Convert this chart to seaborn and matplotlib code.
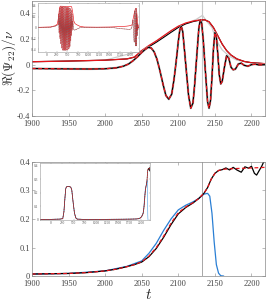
import numpy as np
import pandas as pd
import matplotlib
matplotlib.use("Agg")
import matplotlib.pyplot as plt
import seaborn as sns

# ---- top panel: real part of the (2,2) waveform, late times ----
t_re = [1900, 1950, 1980, 2000, 2015, 2025, 2032, 2038, 2044, 2050, 2055, 2059, 2063, 2067,
        2071, 2075, 2079, 2083, 2087, 2091, 2094, 2097, 2100, 2102, 2104, 2106, 2108, 2111,
        2114, 2117, 2120, 2122, 2125, 2128, 2130, 2132, 2134, 2137, 2140, 2142, 2144, 2146,
        2148, 2150, 2152, 2154, 2156, 2158, 2160, 2163, 2166, 2169, 2172, 2175, 2178, 2182,
        2186, 2190, 2195, 2200, 2205, 2210, 2218]
re_nr = [-0.030, -0.033, -0.034, -0.032, -0.025, -0.012, 0.005, 0.030, 0.060, 0.095, 0.120,
         0.135, 0.130, 0.100, 0.040, -0.050, -0.150, -0.240, -0.270, -0.230, -0.120, 0.020,
         0.180, 0.270, 0.300, 0.260, 0.140, -0.050, -0.240, -0.340, -0.300, -0.180, 0.050,
         0.280, 0.350, 0.320, 0.200, -0.050, -0.290, -0.340, -0.280, -0.100, 0.120, 0.250,
         0.220, 0.080, -0.080, -0.150, -0.130, -0.020, 0.070, 0.050, -0.020, -0.040, -0.035,
         0.005, 0.012, -0.005, -0.012, 0.000, 0.004, -0.002, 0.000]

t_amp = [1900, 1950, 2000, 2030, 2040, 2050, 2060, 2070, 2080, 2090, 2100, 2110, 2120, 2130,
         2136, 2142, 2148, 2154, 2160, 2166, 2172, 2180, 2190, 2200, 2218]
amp_red = [0.023, 0.028, 0.035, 0.045, 0.060, 0.110, 0.150, 0.185, 0.225, 0.265, 0.300, 0.325,
           0.340, 0.350, 0.350, 0.335, 0.290, 0.225, 0.160, 0.110, 0.075, 0.045, 0.025, 0.015,
           0.008]
amp_blk = [0.023, 0.028, 0.035, 0.045, 0.058, 0.105, 0.140, 0.175, 0.213, 0.252, 0.290, 0.318,
           0.336, 0.348, 0.350, 0.335, 0.290, 0.225, 0.160, 0.110, 0.075, 0.045, 0.025, 0.015,
           0.008]
t_grey = [1900, 2000, 2050, 2100, 2115, 2125, 2133, 2140, 2146, 2150, 2155, 2160, 2170, 2180,
          2200, 2218]
amp_grey = [0.023, 0.035, 0.110, 0.300, 0.330, 0.355, 0.385, 0.330, 0.290, 0.220, 0.160, 0.115,
            0.065, 0.035, 0.015, 0.008]

# ---- top inset: early part of the waveform ----
t_re_early = [-200, 0, 100, 200, 250, 280, 290, 300, 310, 320, 330, 340, 350, 360, 370, 380,
              390, 400, 410, 420, 430, 440, 450, 460, 470, 480, 490, 500, 510, 520, 530, 540,
              550, 560, 570, 580, 590, 600, 610, 620, 630, 640, 660, 700, 750, 800, 1000, 1400,
              1600, 1700, 1800]
re_early = [0.0, 0.0, 0.005, 0.02, 0.04, 0.05, 0.25, -0.10, 0.35, -0.20, 0.38, -0.30, 0.38,
            -0.38, 0.38, -0.42, 0.38, -0.42, 0.38, -0.42, 0.38, -0.42, 0.38, -0.42, 0.37, -0.42,
            0.37, -0.42, 0.37, -0.40, 0.37, -0.38, 0.36, -0.35, 0.35, -0.25, 0.32, -0.15, 0.25,
            -0.05, 0.12, -0.02, -0.05, -0.04, -0.02, -0.005, 0.0, 0.0, -0.005, -0.015, -0.025]
t_amp_early = [-200, 100, 200, 260, 290, 310, 330, 600, 630, 650, 680, 720, 800, 900, 1200,
               1500, 1700, 1800]
amp_early = [0.002, 0.01, 0.03, 0.06, 0.20, 0.36, 0.39, 0.38, 0.25, 0.12, 0.07, 0.05, 0.02,
             0.008, 0.005, 0.008, 0.014, 0.018]

# ---- bottom panel: frequency ----
t_om = [1900, 1925, 1950, 1975, 2000, 2015, 2030, 2040, 2050, 2060, 2070, 2080, 2090, 2100,
        2110, 2120, 2128, 2135, 2140, 2145, 2150, 2155, 2160, 2170, 2180, 2190, 2200, 2210, 2218]
om_red = [0.007, 0.008, 0.009, 0.012, 0.018, 0.024, 0.033, 0.040, 0.050, 0.070, 0.100, 0.140,
          0.185, 0.222, 0.242, 0.257, 0.272, 0.290, 0.310, 0.340, 0.360, 0.370, 0.374, 0.376,
          0.377, 0.378, 0.379, 0.380, 0.381]
t_om_blk = [1900, 1925, 1950, 1975, 2000, 2015, 2030, 2040, 2050, 2060, 2070, 2080, 2090, 2100,
            2110, 2120, 2128, 2135, 2140, 2145, 2150, 2155, 2160, 2165, 2170, 2175, 2180, 2186,
            2191, 2196, 2200, 2204, 2207, 2211, 2214, 2218]
om_blk = [0.007, 0.008, 0.009, 0.012, 0.018, 0.024, 0.033, 0.040, 0.049, 0.068, 0.097, 0.136,
          0.180, 0.218, 0.240, 0.256, 0.272, 0.290, 0.310, 0.340, 0.360, 0.370, 0.373, 0.379,
          0.372, 0.381, 0.372, 0.364, 0.383, 0.378, 0.385, 0.360, 0.354, 0.372, 0.385, 0.408]
t_om_blue = [1900, 1950, 2000, 2030, 2050, 2060, 2070, 2080, 2090, 2100, 2110, 2120, 2128, 2135,
             2140, 2143, 2146, 2149, 2152, 2155, 2158, 2162]
om_blue = [0.007, 0.009, 0.018, 0.034, 0.053, 0.080, 0.115, 0.160, 0.200, 0.232, 0.248, 0.260,
           0.272, 0.287, 0.290, 0.280, 0.220, 0.120, 0.040, 0.010, 0.001, 0.0]

# ---- bottom inset: early frequency ----
t_om_early = [-250, 0, 200, 260, 285, 305, 325, 345, 400, 440, 460, 490, 520, 550, 580, 700,
              1200, 1600, 1800]
om_early = [0.003, 0.004, 0.006, 0.010, 0.060, 0.150, 0.230, 0.245, 0.247, 0.240, 0.220, 0.130,
            0.050, 0.015, 0.006, 0.004, 0.004, 0.005, 0.006]

t_merger = 2133
main_xticks = [1900, 1950, 2000, 2050, 2100, 2150, 2200]
top_yticks = [-0.4, -0.2, 0, 0.2, 0.4]
top_yticklabels = ["-0.4", "-0.2", "0", "0.2", "0.4"]
bot_yticks = [0, 0.1, 0.2, 0.3, 0.4]
bot_yticklabels = ["0", "0.1", "0.2", "0.3", "0.4"]
inset_xticks = [0, 250, 500, 750, 1000, 1250, 1500, 1750, 2000]

sns.set_style("ticks")
plt.rcParams["font.family"] = ["Liberation Serif", "DejaVu Serif"]
plt.rcParams["mathtext.fontset"] = "cm"

fig = plt.figure(figsize=(2.66, 3.05), dpi=100)
ax1 = fig.add_axes([0.120, 0.620, 0.875, 0.378])
ax2 = fig.add_axes([0.120, 0.095, 0.875, 0.374])
in1 = fig.add_axes([0.143, 0.8295, 0.380, 0.161])
in2 = fig.add_axes([0.150, 0.279, 0.4135, 0.187])

def line(ax, x, y, **kw):
    sns.lineplot(x=x, y=y, ax=ax, estimator=None, sort=False, legend=False, **kw)

# top main
ax1.axvline(t_merger, color="#c8c8c8", lw=0.8, zorder=0)
line(ax1, t_grey, amp_grey, color="#cccccc", lw=0.9)
line(ax1, t_amp, amp_blk, color="black", lw=0.8)
line(ax1, t_amp, amp_red, color="#e8151b", lw=0.9)
line(ax1, t_re, re_nr, color="#bbbbbb", lw=1.6)
line(ax1, t_re, re_nr, color="black", lw=0.9)
line(ax1, t_re, re_nr, color="#e8151b", lw=0.9, dashes=(3, 2))
ax1.set_xlim(1900, 2218)
ax1.set_ylim(-0.4, 0.5)
ax1.set_yticks(top_yticks)
ax1.set_yticklabels(top_yticklabels)
ax1.set_ylabel(r"$\Re(\Psi_{22})/\nu$", fontsize=9.5)
ax1.yaxis.set_label_coords(-0.058, 0.5)
ax1.set_xlabel("")

# bottom main
ax2.axvline(t_merger, color="#999999", lw=0.6, zorder=0)
line(ax2, t_om_blue, om_blue, color="#2a7fd4", lw=0.9)
line(ax2, t_om_blk, om_blk, color="black", lw=0.9)
line(ax2, t_om, om_red, color="#e8151b", lw=0.9, dashes=(3, 2))
ax2.set_xlim(1900, 2218)
ax2.set_ylim(0, 0.4)
ax2.set_yticks(bot_yticks)
ax2.set_yticklabels(bot_yticklabels)
ax2.set_xlabel(r"$t$", fontsize=11, labelpad=0)
ax2.set_ylabel("")

for ax in (ax1, ax2):
    ax.set_xticks(main_xticks)
    ax.tick_params(direction="in", top=True, right=True, length=2, width=0.4,
                   labelsize=6, labelcolor="#444444", color="#888888", pad=1.5)
    ax.tick_params(axis="x", pad=3)
    for s in ax.spines.values():
        s.set_color("#888888")
        s.set_linewidth(0.5)

# top inset
line(in1, t_amp_early + t_amp, amp_early + amp_red, color="#e8151b", lw=0.45)
line(in1, t_re_early + t_re, re_early + re_nr, color="#666666", lw=0.3)
line(in1, t_re_early + t_re, re_early + re_nr, color="#e8151b", lw=0.3, dashes=(2, 2))
in1.set_xlim(-200, 2205)
in1.set_ylim(-0.45, 0.45)
in1.set_yticks(top_yticks)
in1.set_yticklabels(top_yticklabels)

# bottom inset
line(in2, t_om_early + t_om_blue, om_early + om_blue, color="#6aaee8", lw=0.5)
line(in2, t_om_early + t_om_blk, om_early + om_blk, color="#333333", lw=0.5)
line(in2, t_om_early + t_om, om_early + om_red, color="#e8151b", lw=0.5, dashes=(2, 1.5))
in2.set_xlim(-250, 2200)
in2.set_ylim(0, 0.42)
in2.set_yticks(bot_yticks)
in2.set_yticklabels(bot_yticklabels)

for ax in (in1, in2):
    ax.set_xticks(inset_xticks)
    ax.set_xticklabels([str(v) for v in inset_xticks])
    ax.set_xlabel("")
    ax.set_ylabel("")
    ax.tick_params(direction="in", top=True, right=True, length=1, width=0.3,
                   labelsize=2.5, labelcolor="#555555", color="#999999", pad=1)
    for s in ax.spines.values():
        s.set_color("#999999")
        s.set_linewidth(0.4)

fig.savefig("out.png", dpi=100)
